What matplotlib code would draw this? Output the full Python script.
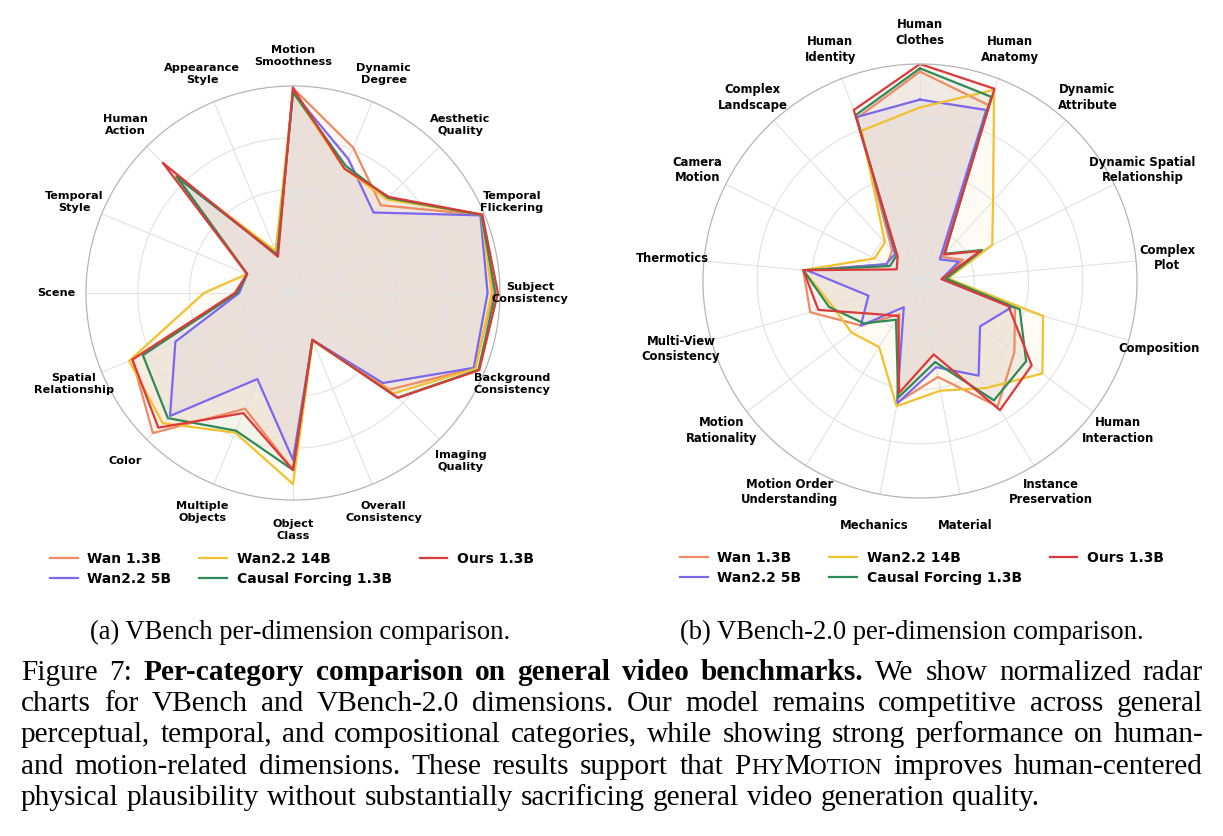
import numpy as np
import matplotlib
matplotlib.use("Agg")
import matplotlib.pyplot as plt

# ---- data -------------------------------------------------------------
models = ["Wan 1.3B", "Wan2.2 5B", "Wan2.2 14B", "Causal Forcing 1.3B", "Ours 1.3B"]
colors = ["#ef8a62", "#7b68ee", "#f2c12e", "#2e8b57", "#dc3a38"]

# VBench dimensions (clockwise from top), normalized scores
vb_dims = ["Motion\nSmoothness", "Dynamic\nDegree", "Aesthetic\nQuality",
           "Temporal\nFlickering", "Subject\nConsistency", "Background\nConsistency",
           "Imaging\nQuality", "Overall\nConsistency", "Object\nClass",
           "Multiple\nObjects", "Color", "Spatial\nRelationship", "Scene",
           "Temporal\nStyle", "Human\nAction", "Appearance\nStyle"]
vb_wan13 = [0.99, 0.76, 0.60, 0.985, 0.97, 0.95, 0.66, 0.245, 0.855, 0.605, 0.957, 0.84, 0.28, 0.24, 0.80, 0.20]
vb_wan5 = [0.97, 0.70, 0.55, 0.980, 0.94, 0.945, 0.615, 0.245, 0.806, 0.45, 0.84, 0.615, 0.26, 0.24, 0.79, 0.20]
vb_wan14 = [0.97, 0.65, 0.64, 0.985, 0.96, 0.955, 0.686, 0.25, 0.923, 0.73, 0.89, 0.857, 0.43, 0.24, 0.80, 0.22]
vb_cf = [0.97, 0.665, 0.65, 0.985, 0.978, 0.97, 0.715, 0.245, 0.855, 0.72, 0.855, 0.785, 0.27, 0.24, 0.795, 0.20]
vb_ours = [0.99, 0.65, 0.656, 0.99, 0.99, 0.974, 0.717, 0.245, 0.855, 0.628, 0.92, 0.84, 0.28, 0.24, 0.89, 0.19]

# VBench-2.0 dimensions (clockwise from top), normalized scores
vb2_dims = ["Human\nClothes", "Human\nAnatomy", "Dynamic\nAttribute",
            "Dynamic Spatial\nRelationship", "Complex\nPlot", "Composition",
            "Human\nInteraction", "Instance\nPreservation", "Material", "Mechanics",
            "Motion Order\nUnderstanding", "Motion\nRationality",
            "Multi-View\nConsistency", "Thermotics", "Camera\nMotion",
            "Complex\nLandscape", "Human\nIdentity"]
vb2_wan13 = [0.965, 0.87, 0.15, 0.22, 0.11, 0.455, 0.545, 0.68, 0.45, 0.57, 0.18, 0.34, 0.526, 0.54, 0.17, 0.19, 0.805]
vb2_wan5 = [0.836, 0.845, 0.135, 0.20, 0.10, 0.44, 0.347, 0.513, 0.404, 0.575, 0.142, 0.342, 0.247, 0.52, 0.175, 0.17, 0.81]
vb2_wan14 = [0.80, 0.945, 0.50, 0.372, 0.13, 0.59, 0.707, 0.58, 0.514, 0.587, 0.358, 0.395, 0.42, 0.54, 0.234, 0.24, 0.743]
vb2_cf = [0.98, 0.91, 0.17, 0.32, 0.12, 0.478, 0.613, 0.647, 0.38, 0.547, 0.21, 0.324, 0.436, 0.54, 0.155, 0.16, 0.82]
vb2_ours = [1.0, 0.95, 0.165, 0.31, 0.10, 0.424, 0.645, 0.70, 0.344, 0.525, 0.19, 0.253, 0.487, 0.54, 0.12, 0.153, 0.845]

W, H = 1223, 836
fig = plt.figure(figsize=(W / 100, H / 100), dpi=100)
fig.patch.set_facecolor("white")


def px_axes(cx, cy, r):
    return [(cx - r) / W, 1 - (cy + r) / H, 2 * r / W, 2 * r / H]


def draw_radar(ax, labels, series, fs):
    n = len(labels)
    ang = np.linspace(0, 2 * np.pi, n, endpoint=False)
    ax.set_theta_offset(np.pi / 2)
    ax.set_theta_direction(-1)
    for vals, name, c in zip(series, models, colors):
        a = np.r_[ang, ang[:1]]
        v = np.r_[vals, vals[:1]]
        ax.plot(a, v, color=c, lw=1.6, label=name)
        ax.fill(a, v, color=c, alpha=0.05)
    ax.set_ylim(0, 1)
    ax.set_yticks([0.25, 0.5, 0.75])
    ax.set_yticklabels([])
    ax.set_xticks(ang)
    ax.set_xticklabels([])
    ax.grid(color="#e2e2e2", lw=0.8)
    ax.spines["polar"].set_color("#b5b5b5")
    ax.spines["polar"].set_linewidth(0.9)
    for a, lab in zip(ang, labels):
        ax.text(a, 1.145, lab, ha="center", va="center", fontsize=fs,
                fontweight="bold", linespacing=1.25)


ax1 = fig.add_axes(px_axes(293, 293, 207), projection="polar")
draw_radar(ax1, vb_dims, [vb_wan13, vb_wan5, vb_wan14, vb_cf, vb_ours], 8.1)
ax2 = fig.add_axes(px_axes(920, 281, 217), projection="polar")
draw_radar(ax2, vb2_dims, [vb2_wan13, vb2_wan5, vb2_wan14, vb2_cf, vb2_ours], 8.4)

for ax, cx, cy in [(ax1, 292, 569), (ax2, 922, 568)]:
    h, l = ax.get_legend_handles_labels()
    fig.legend(h, l, loc="center", bbox_to_anchor=(cx / W, 1 - cy / H), ncol=3,
               frameon=False, prop={"weight": "bold", "size": 10},
               handlelength=2.0, handletextpad=0.7, columnspacing=2.0,
               labelspacing=0.45, borderpad=0)

serif = "Liberation Serif"
fig.text(300 / W, 1 - 639 / H, "(a) VBench per-dimension comparison.",
         ha="center", va="baseline", fontsize=19.2, family=serif)
fig.text(912 / W, 1 - 639 / H, "(b) VBench-2.0 per-dimension comparison.",
         ha="center", va="baseline", fontsize=19.2, family=serif)

# ---- caption, justified word by word ----------------------------------
cap_fs = 21.2
left, right = 21, 1203
baselines = [680, 711, 742.5, 774, 805]

N, B = False, True
cap_lines = [
    [[("Figure", N, 1)], [("7:", N, 1)]] +
    [[(w, B, 1)] for w in "Per-category comparison on general video benchmarks.".split()] +
    [[(w, N, 1)] for w in "We show normalized radar".split()],
    [[(w, N, 1)] for w in "charts for VBench and VBench-2.0 dimensions. Our model remains competitive across general".split()],
    [[(w, N, 1)] for w in "perceptual, temporal, and compositional categories, while showing strong performance on human-".split()],
    [[(w, N, 1)] for w in "and motion-related dimensions. These results support that".split()] +
    [[("P", N, 1), ("HY", N, 0.78), ("M", N, 1), ("OTION", N, 0.78)]] +
    [[(w, N, 1)] for w in "improves human-centered".split()],
    [[(w, N, 1)] for w in "physical plausibility without substantially sacrificing general video generation quality.".split()],
]

renderer = fig.canvas.get_renderer()
space = 0.27 * cap_fs * 100 / 72
for i, (words, yb) in enumerate(zip(cap_lines, baselines)):
    placed = []
    total = 0
    for w in words:
        parts = []
        for txt, bold, sc in w:
            t = fig.text(0, 1 - yb / H, txt, fontsize=cap_fs * sc, family=serif,
                         fontweight="bold" if bold else "normal", va="baseline")
            wd = t.get_window_extent(renderer).width
            parts.append((t, wd))
            total += wd
        placed.append(parts)
    if i < len(cap_lines) - 1:
        gap = (right - left - total) / (len(words) - 1)
    else:
        gap = space
    x = left
    for parts in placed:
        for t, wd in parts:
            t.set_x(x / W)
            x += wd
        x += gap

fig.savefig("out.png", dpi=100, facecolor="white")
